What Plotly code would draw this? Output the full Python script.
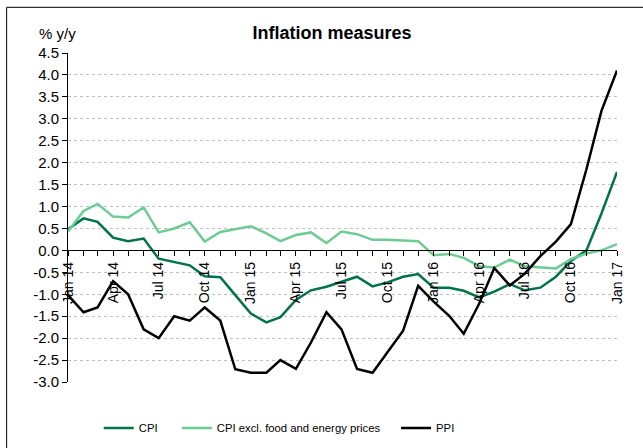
import pandas as pd
import plotly.graph_objects as go

months = [d.strftime("%Y-%m-%d") for d in pd.date_range("2014-01-01", "2017-01-01", freq="MS")]

cpi = [0.48, 0.73, 0.65, 0.29, 0.21, 0.27, -0.19, -0.27, -0.34, -0.59, -0.61, -1.02,
       -1.44, -1.64, -1.52, -1.13, -0.91, -0.83, -0.72, -0.60, -0.82, -0.73, -0.60, -0.54,
       -0.85, -0.85, -0.92, -1.07, -0.94, -0.77, -0.91, -0.85, -0.60, -0.24, 0.00, 0.84, 1.79]
cpi_core = [0.43, 0.90, 1.06, 0.77, 0.75, 0.98, 0.41, 0.50, 0.64, 0.20, 0.42, 0.48,
            0.55, 0.39, 0.21, 0.35, 0.41, 0.17, 0.43, 0.37, 0.24, 0.24, 0.23, 0.21,
            -0.11, -0.08, -0.17, -0.36, -0.39, -0.21, -0.36, -0.39, -0.41, -0.20, -0.07, 0.00, 0.14]
ppi = [-1.02, -1.41, -1.30, -0.70, -1.00, -1.80, -2.00, -1.50, -1.60, -1.30, -1.60, -2.71,
       -2.79, -2.79, -2.50, -2.70, -2.10, -1.41, -1.80, -2.70, -2.79, -2.31, -1.83, -0.81,
       -1.17, -1.49, -1.90, -1.21, -0.40, -0.80, -0.53, -0.13, 0.20, 0.60, 1.85, 3.18, 4.10]

x_tick_vals = ["2014-01-01", "2014-04-01", "2014-07-01", "2014-10-01",
               "2015-01-01", "2015-04-01", "2015-07-01", "2015-10-01",
               "2016-01-01", "2016-04-01", "2016-07-01", "2016-10-01", "2017-01-01"]
x_tick_text = ["Jan 14", "Apr 14", "Jul 14", "Oct 14", "Jan 15", "Apr 15", "Jul 15",
               "Oct 15", "Jan 16", "Apr 16", "Jul 16", "Oct 16", "Jan 17"]
y_tick_vals = [-3.0, -2.5, -2.0, -1.5, -1.0, -0.5, 0.0, 0.5, 1.0, 1.5, 2.0, 2.5, 3.0, 3.5, 4.0, 4.5]
y_tick_text = ["-3.0", "-2.5", "-2.0", "-1.5", "-1.0", "-0.5", "0.0", "0.5", "1.0",
               "1.5", "2.0", "2.5", "3.0", "3.5", "4.0", "4.5"]

FONT = "Liberation Sans, Arial, sans-serif"
C_CPI = "#00734A"
C_CORE = "#6DCB94"
C_PPI = "#000000"

fig = go.Figure()
fig.add_trace(go.Scatter(x=months, y=cpi, mode="lines", name="CPI",
                         line=dict(color=C_CPI, width=2.5), legend="legend"))
fig.add_trace(go.Scatter(x=months, y=cpi_core, mode="lines", name="CPI excl. food and energy prices",
                         line=dict(color=C_CORE, width=2.5), legend="legend2"))
fig.add_trace(go.Scatter(x=months, y=ppi, mode="lines", name="PPI",
                         line=dict(color=C_PPI, width=2.5), legend="legend3"))

W0, W1 = 68.3, 616.7
def px2paper(px):
    return (px - W0) / (W1 - W0)

leg_common = dict(orientation="h", yanchor="middle", y=-0.14, xanchor="left",
                  font=dict(family=FONT, size=11.3, color="black"),
                  bgcolor="rgba(0,0,0,0)", borderwidth=0)

fig.update_layout(
    width=643, height=448,
    margin=dict(l=68, r=26, t=53, b=66, autoexpand=False),
    paper_bgcolor="white", plot_bgcolor="white",
    font=dict(family=FONT, color="black"),
    showlegend=True,
    legend=dict(x=px2paper(99), **leg_common),
    legend2=dict(x=px2paper(177), **leg_common),
    legend3=dict(x=px2paper(396), **leg_common),
    title=dict(text="<b>Inflation measures</b>", x=332 / 643, xanchor="center",
               y=1 - 32.5 / 448, yanchor="middle", yref="container",
               font=dict(family=FONT, size=18, color="black")),
    xaxis=dict(type="date", range=["2014-01-01", "2017-01-01"],
               anchor="free", position=0.4,
               showline=True, linecolor="black", linewidth=1,
               showgrid=False, zeroline=False,
               tickmode="array", tickvals=x_tick_vals, ticktext=x_tick_text,
               ticks="outside", ticklen=5, tickcolor="black", tickwidth=1,
               tickangle=-90, tickfont=dict(family=FONT, size=14, color="black"),
               minor=dict(ticks="outside", ticklen=5, tickcolor="black", tickwidth=1,
                          dtick="M1", tick0="2014-01-01", showgrid=False)),
    yaxis=dict(range=[-3.0, 4.5],
               showline=True, linecolor="black", linewidth=1,
               tickmode="array", tickvals=y_tick_vals, ticktext=y_tick_text,
               ticks="outside", ticklen=5, tickcolor="black",
               tickfont=dict(family=FONT, size=15, color="black"),
               showgrid=True, gridcolor="#C0C0C0", gridwidth=1, griddash="dot",
               zeroline=False),
)

fig.add_annotation(text="% y/y", xref="paper", yref="paper",
                   x=px2paper(37), xanchor="left", y=(381.7 - 33) / 329, yanchor="middle",
                   showarrow=False, font=dict(family=FONT, size=15, color="black"))

fig.add_shape(type="rect", xref="paper", yref="paper",
              x0=px2paper(7), x1=px2paper(660), y0=(381.7 - 470) / 329, y1=(381.7 - 7) / 329,
              line=dict(color="black", width=1), fillcolor="rgba(0,0,0,0)", layer="below")

fig.write_html("out.html", config={"displayModeBar": False},
               post_script="document.body.style.margin='0';document.body.style.overflow='hidden';")
